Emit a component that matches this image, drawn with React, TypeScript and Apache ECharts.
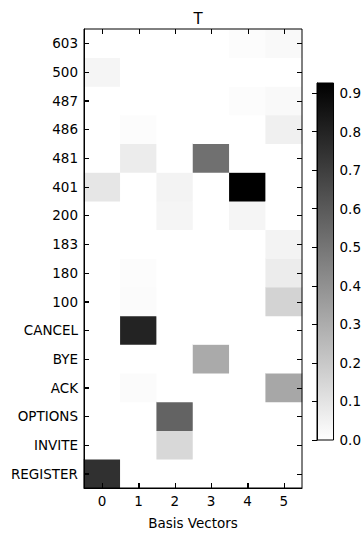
import React, { useEffect, useRef } from "react";
import * as echarts from "echarts";

const xLabels = ["0", "1", "2", "3", "4", "5"];
const yLabels = [
  "REGISTER", "INVITE", "OPTIONS", "ACK", "BYE", "CANCEL", "100", "180",
  "183", "200", "401", "481", "486", "487", "500", "603",
];
// values per basis vector, ordered as yLabels (bottom to top)
const basis0 = [0.75, 0, 0, 0, 0, 0, 0, 0, 0, 0, 0.09, 0, 0, 0, 0.035, 0];
const basis1 = [0, 0, 0, 0.015, 0, 0.8, 0.015, 0.01, 0, 0, 0, 0.07, 0.01, 0, 0, 0];
const basis2 = [0, 0.14, 0.565, 0, 0, 0, 0, 0, 0, 0.035, 0.045, 0, 0, 0, 0, 0];
const basis3 = [0, 0, 0, 0, 0.31, 0, 0, 0, 0, 0, 0, 0.52, 0, 0, 0, 0];
const basis4 = [0, 0, 0, 0, 0, 0, 0, 0, 0, 0.035, 0.926, 0, 0, 0.01, 0, 0.01];
const basis5 = [0, 0, 0, 0.32, 0, 0, 0.16, 0.07, 0.045, 0, 0, 0, 0.055, 0.02, 0, 0.02];
const vmin = 0;
const vmax = 0.926;

const FONT = "DejaVu Sans";
const FS = 13.5;
const TICK = 5;

export default function App() {
  const ref = useRef<HTMLDivElement>(null);
  useEffect(() => {
    if (!ref.current) return;
    const chart = echarts.init(ref.current, undefined, { renderer: "svg" });
    const cols = [basis0, basis1, basis2, basis3, basis4, basis5];
    const data: number[][] = [];
    cols.forEach((col, xi) => col.forEach((v, yi) => data.push([xi, yi, v])));

    const crisp = (v: number) => Math.round(v) + 0.5;
    const tickStyle = { stroke: "#000", lineWidth: 1, fill: "none" };

    const xTickItem = (params: any, api: any) => {
      const pt = api.coord([api.value(0), api.value(1)]);
      const cs = params.coordSys;
      const px = crisp(pt[0]);
      const bottom = cs.y + cs.height;
      const top = cs.y;
      return {
        type: "group",
        children: [
          { type: "line", shape: { x1: px, y1: bottom, x2: px, y2: bottom - TICK }, style: tickStyle },
          { type: "line", shape: { x1: px, y1: top, x2: px, y2: top + TICK }, style: tickStyle },
        ],
      };
    };
    const yTickItem = (params: any, api: any) => {
      const pt = api.coord([api.value(0), api.value(1)]);
      const cs = params.coordSys;
      const py = crisp(pt[1]);
      const left = cs.x;
      const right = cs.x + cs.width;
      return {
        type: "group",
        children: [
          { type: "line", shape: { x1: left, y1: py, x2: left + TICK, y2: py }, style: tickStyle },
          { type: "line", shape: { x1: right, y1: py, x2: right - TICK, y2: py }, style: tickStyle },
        ],
      };
    };

    const catAxis = {
      type: "category" as const,
      gridIndex: 0,
      z: 10,
      axisLine: { show: true, onZero: false, lineStyle: { color: "#000", width: 1 } },
      axisTick: { show: true, inside: true, alignWithLabel: true, length: TICK, lineStyle: { color: "#000" } },
      splitLine: { show: false },
    };

    chart.setOption({
      animation: false,
      backgroundColor: "#fff",
      textStyle: { fontFamily: FONT },
      title: {
        text: "T",
        left: 193,
        top: 6,
        textAlign: "center",
        textStyle: { fontFamily: FONT, fontSize: 15, fontWeight: "normal", color: "#000" },
      },
      grid: [
        { left: 84, top: 29, width: 218, height: 465, show: true, borderColor: "#000", borderWidth: 1, z: 20 },
        {
          left: 317, top: 83, width: 19, height: 357, show: true,
          borderColor: "#000", borderWidth: 1,
          backgroundColor: new echarts.graphic.LinearGradient(0, 0, 0, 1, [
            { offset: 0, color: "#000000" },
            { offset: 1, color: "#ffffff" },
          ]),
        },
      ],
      xAxis: [
        {
          ...catAxis,
          position: "bottom",
          data: xLabels,
          name: "Basis Vectors",
          nameLocation: "middle",
          nameGap: 28,
          nameTextStyle: { fontFamily: FONT, fontSize: FS, color: "#000" },
          axisLabel: { fontFamily: FONT, fontSize: FS, color: "#000", margin: 6 },
        },
        { type: "value", gridIndex: 1, show: false, min: 0, max: 1 },
      ],
      yAxis: [
        {
          ...catAxis,
          position: "left",
          data: yLabels,
          axisLabel: { fontFamily: FONT, fontSize: FS, color: "#000", margin: 6 },
        },
        {
          type: "value",
          gridIndex: 1,
          position: "right",
          min: vmin,
          max: vmax,
          interval: 0.1,
          z: 10,
          axisLine: { show: true, lineStyle: { color: "#000" } },
          axisTick: { inside: true, length: TICK, lineStyle: { color: "#000" } },
          splitLine: { show: false },
          axisLabel: {
            fontFamily: FONT,
            fontSize: FS,
            color: "#000",
            margin: 6,
            showMaxLabel: false,
            formatter: (v: number) => v.toFixed(1),
          },
        },
      ],
      visualMap: {
        show: false,
        type: "continuous",
        min: vmin,
        max: vmax,
        seriesIndex: 0,
        inRange: { color: ["#ffffff", "#000000"] },
      },
      series: [
        {
          type: "heatmap",
          xAxisIndex: 0,
          yAxisIndex: 0,
          z: 1,
          data,
          itemStyle: { borderWidth: 0 },
          emphasis: { disabled: true },
        },
        {
          type: "custom",
          xAxisIndex: 0,
          yAxisIndex: 0,
          z: 30,
          silent: true,
          clip: false,
          data: xLabels.map((_, i) => [i, 0]),
          renderItem: xTickItem,
        },
        {
          type: "custom",
          xAxisIndex: 0,
          yAxisIndex: 0,
          z: 30,
          silent: true,
          clip: false,
          data: yLabels.map((_, j) => [0, j]),
          renderItem: yTickItem,
        },
      ],
    });

    return () => chart.dispose();
  }, []);
  return (
    <div
      ref={ref}
      style={{ position: "fixed", left: 0, top: 0, width: 364, height: 535 }}
    />
  );
}
